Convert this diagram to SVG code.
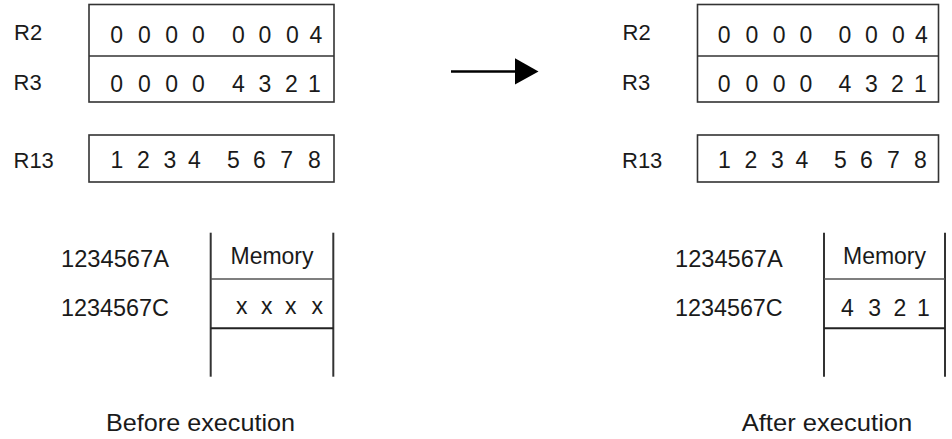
<svg xmlns="http://www.w3.org/2000/svg" width="952" height="439" viewBox="0 0 952 439">
<defs>
<style>
text { font-family: "Liberation Sans", Arial, sans-serif; fill: #1a1a1a; }
.lbl { font-size: 22px; }
.dig { font-size: 23px; text-anchor: middle; }
.mem { font-size: 23px; }
.cap { font-size: 24px; }
.box { fill: #ffffff; stroke: #333333; stroke-width: 1.6; }
.div { stroke: #333333; stroke-width: 1.6; fill: none; }
.vl { stroke: #333333; stroke-width: 2; fill: none; }
.hl1 { stroke: #555555; stroke-width: 1.4; fill: none; }
.hl2 { stroke: #222222; stroke-width: 2; fill: none; }
</style>
<marker id="ah" markerWidth="10" markerHeight="10" refX="0" refY="5" orient="auto" markerUnits="userSpaceOnUse" viewBox="0 0 10 10">
<path d="M0,0 L10,5 L0,10 Z" fill="#000"/>
</marker>
</defs>
<rect width="952" height="439" fill="#ffffff"/>

<g id="before-r2r3">
<rect class="box" x="89" y="4.5" width="245" height="97.5"/>
<line class="div" x1="89" y1="56" x2="334" y2="56"/>
<text class="lbl" x="14" y="39.5">R2</text>
<text class="lbl" x="13.5" y="89.5">R3</text>
<text class="dig" x="116.7 130.5 144.3 158 171.7 185 198.3 218.3 238.3 251.7 265 278.7 292.3 304 316" y="42.7">0 0 0 0  0 0 0 4</text>
<text class="dig" x="116.7 130.5 144.3 158 171.7 185 198.3 218.3 238.3 251.7 265 278.7 291.5 303 314.5" y="91.7">0 0 0 0  4 3 2 1</text>
</g>

<g id="before-r13">
<rect class="box" x="89" y="135" width="245" height="47"/>
<text class="lbl" x="13.5" y="168.3">R13</text>
<text class="dig" x="117 130 143.3 156.7 170 182 194.3 214 233.3 246.3 259.3 273 286.7 300.5 314.3" y="168.3">1 2 3 4  5 6 7 8</text>
</g>

<g id="before-memory">
<line class="vl" x1="210.7" y1="232.7" x2="210.7" y2="376.7"/>
<line class="vl" x1="333.3" y1="232.7" x2="333.3" y2="376.7"/>
<line class="hl1" x1="210.7" y1="279" x2="333.3" y2="279"/>
<line class="hl2" x1="210.7" y1="328.3" x2="333.3" y2="328.3"/>
<text class="mem" x="272" y="264.3" text-anchor="middle">Memory</text>
<text class="mem" x="61" y="266.7" textLength="108" lengthAdjust="spacingAndGlyphs">1234567A</text>
<text class="mem" x="61" y="315.7" textLength="108" lengthAdjust="spacingAndGlyphs">1234567C</text>
<text class="dig" x="241.7 254 266.7 279 290.7 304 317.3" y="314.3">x x x x</text>
</g>

<text class="cap" x="106" y="430.7" textLength="189" lengthAdjust="spacingAndGlyphs">Before execution</text>

<g id="connectors">
<line x1="451" y1="71.5" x2="515" y2="71.5" stroke="#000" stroke-width="2.6"/>
<path d="M515,58.3 L538.5,71.5 L515,84.5 Z" fill="#000"/>
</g>

<g id="after-r2r3" transform="translate(608.5,0)">
<rect class="box" x="89" y="4.5" width="241" height="97.5"/>
<line class="div" x1="89" y1="56" x2="330" y2="56"/>
<text class="lbl" x="14" y="39.5">R2</text>
<text class="lbl" x="13.5" y="89.5">R3</text>
<text class="dig" x="115.7 129.5 143.3 157 170.7 184 197.3 217 236.3 249.7 263 276.7 290 301.5 313" y="42.7">0 0 0 0  0 0 0 4</text>
<text class="dig" x="115.7 129.5 143.3 157 170.7 184 197.3 217 236.3 249.7 263 276.7 289 300.5 312" y="91.7">0 0 0 0  4 3 2 1</text>
</g>

<g id="after-r13" transform="translate(608.5,0)">
<rect class="box" x="89" y="135" width="241" height="47"/>
<text class="lbl" x="13.5" y="168.3">R13</text>
<text class="dig" x="116 129 142.3 155.7 169 181 193.3 213 232 245 258 271.5 285 298.5 312" y="168.3">1 2 3 4  5 6 7 8</text>
</g>

<g id="after-memory">
<line class="vl" x1="824" y1="232.7" x2="824" y2="376.7"/>
<line class="vl" x1="945" y1="232.7" x2="945" y2="376.7"/>
<line class="hl1" x1="824" y1="279" x2="945" y2="279"/>
<line class="hl2" x1="824" y1="328.3" x2="945" y2="328.3"/>
<text class="mem" x="884.5" y="264.3" text-anchor="middle">Memory</text>
<text class="mem" x="675" y="266.7" textLength="107.7" lengthAdjust="spacingAndGlyphs">1234567A</text>
<text class="mem" x="675" y="315.7" textLength="107.7" lengthAdjust="spacingAndGlyphs">1234567C</text>
<text class="dig" x="847.3 861 874.7 887.5 900 912 923.5" y="315.7">4 3 2 1</text>
</g>

<text class="cap" x="741.7" y="430.7" textLength="170.6" lengthAdjust="spacingAndGlyphs">After execution</text>
</svg>
